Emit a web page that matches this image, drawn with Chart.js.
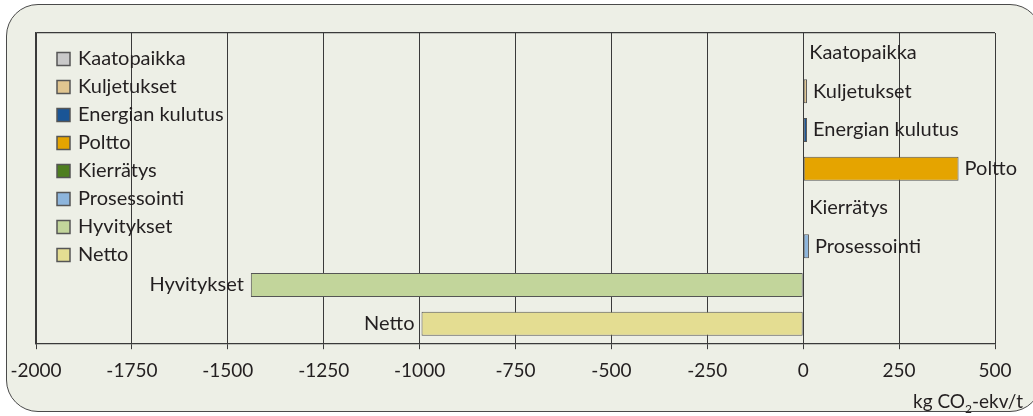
<!DOCTYPE html>
<html>
<head>
<meta charset="utf-8">
<script src="https://cdn.jsdelivr.net/npm/chart.js@4/dist/chart.umd.min.js"></script>
<style>
  html, body { margin: 0; padding: 0; background: #ffffff; overflow: hidden; }
  #wrap { position: relative; width: 1033px; height: 416px; overflow: hidden; }
  #panel {
    position: absolute; left: 6px; top: 4px; width: 1036px; height: 408px;
    box-sizing: border-box; border: 1.4px solid #4a4a4a; border-radius: 32px;
    background: #edefe6;
  }
  #c { position: absolute; left: 0; top: 0; }
</style>
</head>
<body>
<div id="wrap"><div id="panel"></div><canvas id="c" width="1033" height="416"></canvas></div>
<script>
// Emission sources, kg CO2-ekv per tonne
const categories = ['Kaatopaikka', 'Kuljetukset', 'Energian kulutus', 'Poltto', 'Kierrätys', 'Prosessointi', 'Hyvitykset', 'Netto'];
const values = [0, 10, 10, 405, 0, 15, -1440, -995];
const colors = ['#c9c9c9', '#e0c590', '#1a5596', '#e5a400', '#4e7e1f', '#8db5dc', '#c2d59b', '#e4dd92'];
const xTickValues = [-2000, -1750, -1500, -1250, -1000, -750, -500, -250, 0, 250, 500];
const unitLabel = { main: 'kg CO', sub: '2', rest: '-ekv/t' };

const FONT = 'Lato, "Open Sans", sans-serif';
const INK = '#231f20';
const LINE = '#3a3a3a';

// Key listing the categories in the upper-left corner of the plot
const cornerKey = {
  id: 'cornerKey',
  afterDraw(chart) {
    const ctx = chart.ctx;
    const area = chart.chartArea;
    const x0 = area.left + 21, y0 = area.top + 26, step = 28, box = 13;
    ctx.save();
    ctx.font = '20px ' + FONT;
    ctx.textBaseline = 'middle';
    ctx.textAlign = 'left';
    categories.forEach((name, i) => {
      const cy = y0 + i * step;
      ctx.fillStyle = colors[i];
      ctx.fillRect(x0, cy - box / 2, box, box);
      ctx.lineWidth = 1.5;
      ctx.strokeStyle = '#555555';
      ctx.strokeRect(x0, cy - box / 2, box, box);
      ctx.fillStyle = INK;
      ctx.fillText(name, x0 + box + 8, cy);
    });
    ctx.restore();
  }
};

// Category names next to the bar ends, plus the unit under the axis
const barNames = {
  id: 'barNames',
  afterDatasetsDraw(chart) {
    const ctx = chart.ctx;
    const meta = chart.getDatasetMeta(0);
    ctx.save();
    ctx.font = '20px ' + FONT;
    ctx.fillStyle = INK;
    ctx.textBaseline = 'middle';
    meta.data.forEach((bar, i) => {
      const v = values[i];
      if (v < 0) {
        ctx.textAlign = 'right';
        ctx.fillText(categories[i], bar.x - 7, bar.y);
      } else {
        ctx.textAlign = 'left';
        ctx.fillText(categories[i], bar.x + 6, bar.y);
      }
    });
    // unit label with subscript
    const right = 1023, base = 408;
    ctx.textBaseline = 'alphabetic';
    ctx.textAlign = 'left';
    ctx.font = '19px ' + FONT;
    const w1 = ctx.measureText(unitLabel.main).width;
    const w3 = ctx.measureText(unitLabel.rest).width;
    ctx.font = '12px ' + FONT;
    const w2 = ctx.measureText(unitLabel.sub).width;
    let x = right - (w1 + w2 + w3);
    ctx.font = '19px ' + FONT;
    ctx.fillText(unitLabel.main, x, base);
    x += w1;
    ctx.font = '12px ' + FONT;
    ctx.fillText(unitLabel.sub, x, base + 5);
    x += w2;
    ctx.font = '19px ' + FONT;
    ctx.fillText(unitLabel.rest, x, base);
    ctx.restore();
  }
};

new Chart(document.getElementById('c'), {
  type: 'bar',
  data: {
    labels: categories,
    datasets: [{
      data: values,
      backgroundColor: colors,
      borderColor: '#555555',
      borderWidth: 1,
      borderSkipped: false,
      barPercentage: 0.62,
      categoryPercentage: 1
    }]
  },
  options: {
    indexAxis: 'y',
    responsive: false,
    animation: false,
    devicePixelRatio: 1,
    layout: { padding: { left: 36, right: 38, top: 33, bottom: 24 } },
    plugins: {
      tooltip: { enabled: false },
      legend: { display: false }
    },
    scales: {
      x: {
        type: 'linear',
        min: -2000,
        max: 500,
        afterBuildTicks(scale) {
          scale.ticks = xTickValues.map(v => ({ value: v }));
        },
        ticks: {
          color: INK,
          padding: 10,
          font: { family: FONT, size: 19 },
          maxRotation: 0,
          callback: (v) => String(v)
        },
        grid: {
          color: LINE,
          lineWidth: 1,
          drawTicks: true,
          tickLength: 6,
          tickColor: LINE
        },
        border: { color: LINE, width: 1.2 }
      },
      y: {
        ticks: { display: false },
        grid: {
          drawTicks: false,
          color: (ctx) => ctx.index === 0 ? LINE : 'rgba(0,0,0,0)',
          lineWidth: 1.2
        },
        border: { color: LINE, width: 1.2 }
      }
    }
  },
  plugins: [cornerKey, barNames]
});
</script>
</body>
</html>
